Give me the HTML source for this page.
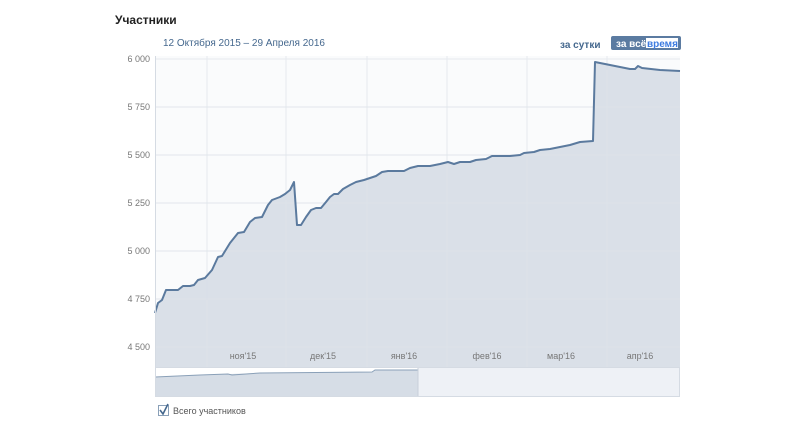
<!DOCTYPE html>
<html><head><meta charset="utf-8"><style>
body{margin:0;width:788px;height:426px;background:#fff;font-family:"Liberation Sans","Noto Sans CJK SC",sans-serif;overflow:hidden}
</style></head><body>
<svg width="788" height="426" xmlns="http://www.w3.org/2000/svg" font-family="Liberation Sans, sans-serif">
<text x="115" y="24" font-size="12" font-weight="bold" fill="#222">Участники</text>
<text x="163" y="46" font-size="10" fill="#45688e">12 Октября 2015 – 29 Апреля 2016</text>
<text x="560" y="48" font-size="10" font-weight="bold" fill="#45688e">за сутки</text>
<rect x="611" y="36" width="70" height="14" rx="2" fill="#5b7ba1"/>
<rect x="646" y="38" width="32" height="10" fill="#fff"/>
<text x="616" y="47" font-size="10" font-weight="bold" fill="#fff">за всё</text>
<text x="647" y="47" font-size="10" font-weight="bold" fill="#3c7be0">время</text>
<rect x="155" y="56" width="525" height="311" fill="#fafbfc"/>
<g stroke="#e6e9ee" stroke-width="1">
<line x1="155" y1="59" x2="680" y2="59"/><line x1="155" y1="107" x2="680" y2="107"/><line x1="155" y1="155" x2="680" y2="155"/><line x1="155" y1="203" x2="680" y2="203"/><line x1="155" y1="251" x2="680" y2="251"/><line x1="155" y1="299" x2="680" y2="299"/><line x1="155" y1="347" x2="680" y2="347"/>
<line x1="207" y1="56" x2="207" y2="367"/><line x1="286" y1="56" x2="286" y2="367"/><line x1="367" y1="56" x2="367" y2="367"/><line x1="447" y1="56" x2="447" y2="367"/><line x1="527" y1="56" x2="527" y2="367"/><line x1="607" y1="56" x2="607" y2="367"/>
</g>
<polygon fill="#d6dde6" fill-opacity="0.9" stroke="none" points="155,367 155,313 158,303 162,300 166,290 178,290 183,286 190,286 194,285 198,280 205,278 212,270 218,257 222,256 230,243 238,233 244,232 250,222 255,218 262,217 268,205 272,200 280,197 285,194 290,190 294,182 297,225 301,225 306,217 311,210 316,208 321,208 326,202 330,197 334,194 338,194 343,189 350,185 356,182 364,180 370,178 376,176 382,172 388,171 404,171 410,168 418,166 430,166 440,164 448,162 454,164 460,162 470,162 476,160 486,159 492,156 510,156 520,155 524,153 534,152 540,150 550,149 560,147 570,145 580,142 593,141 595,62 600,63 615,66 630,69 635,69 638,66 642,68 660,70 680,71 680,367"/>
<g stroke="#e0e5eb" stroke-width="1" opacity="0.7">
<line x1="207" y1="300" x2="207" y2="367"/><line x1="286" y1="200" x2="286" y2="367"/><line x1="367" y1="180" x2="367" y2="367"/><line x1="447" y1="165" x2="447" y2="367"/><line x1="527" y1="155" x2="527" y2="367"/><line x1="607" y1="70" x2="607" y2="367"/>
<line x1="155" y1="347" x2="680" y2="347"/><line x1="155" y1="299" x2="680" y2="299"/><line x1="155" y1="251" x2="680" y2="251"/><line x1="155" y1="203" x2="680" y2="203"/><line x1="155" y1="155" x2="680" y2="155"/><line x1="155" y1="107" x2="680" y2="107"/>
</g>
<polyline fill="none" stroke="#5b7a9e" stroke-width="2" stroke-linejoin="round" points="155,313 158,303 162,300 166,290 178,290 183,286 190,286 194,285 198,280 205,278 212,270 218,257 222,256 230,243 238,233 244,232 250,222 255,218 262,217 268,205 272,200 280,197 285,194 290,190 294,182 297,225 301,225 306,217 311,210 316,208 321,208 326,202 330,197 334,194 338,194 343,189 350,185 356,182 364,180 370,178 376,176 382,172 388,171 404,171 410,168 418,166 430,166 440,164 448,162 454,164 460,162 470,162 476,160 486,159 492,156 510,156 520,155 524,153 534,152 540,150 550,149 560,147 570,145 580,142 593,141 595,62 600,63 615,66 630,69 635,69 638,66 642,68 660,70 680,71"/>
<line x1="155.5" y1="56" x2="155.5" y2="367" stroke="#d5dbe3"/>
<g font-size="9" fill="#777" text-anchor="end">
<text x="150" y="62">6 000</text><text x="150" y="110">5 750</text><text x="150" y="158">5 500</text><text x="150" y="206">5 250</text><text x="150" y="254">5 000</text><text x="150" y="302">4 750</text><text x="150" y="350">4 500</text>
</g>
<g font-size="9" fill="#777" text-anchor="middle">
<text x="243" y="359">ноя'15</text><text x="323" y="359">дек'15</text><text x="404" y="359">янв'16</text><text x="487" y="359">фев'16</text><text x="561" y="359">мар'16</text><text x="640" y="359">апр'16</text>
</g>
<rect x="155" y="368" width="525" height="29" fill="#eef1f6"/>
<rect x="155" y="368" width="263" height="29" fill="#d6dde6"/>
<polygon fill="#fff" points="155,368 418,368 418,370 375,370 372,372 260,373 230,374 155,377"/>
<polyline fill="none" stroke="#8aa0b8" stroke-width="1" points="155,377 200,375 228,374 232,375 260,373 372,372 375,370 418,370"/>
<line x1="418" y1="368" x2="418" y2="397" stroke="#c8d0da"/>
<rect x="155.5" y="367.5" width="524" height="29" fill="none" stroke="#d5dbe3"/>
<rect x="158.5" y="405.5" width="10" height="10" fill="#fff" stroke="#8aa0b8"/>
<polyline points="160,410 163,414 168,404" fill="none" stroke="#45688e" stroke-width="1.6"/>
<text x="173" y="414" font-size="9" fill="#555">Всего участников</text>
</svg>
</body></html>
